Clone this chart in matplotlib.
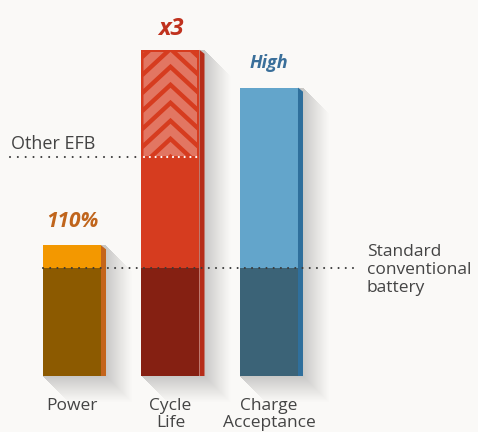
import numpy as np
import matplotlib
matplotlib.use('Agg')
import matplotlib.pyplot as plt
from matplotlib.patches import Rectangle, Polygon

# ---- data ----
categories = ['Power', 'Cycle\nLife', 'Charge\nAcceptance']
values = [121, 302, 267]          # standard conventional battery = 100
standard = 100
other_efb = 203
top_labels = ['110%', 'x3', 'High']

front_top = ['#f39800', '#d63c1f', '#63a5cb']
front_low = ['#8c5a00', '#852012', '#3b6377']
side_col = ['#c4651b', '#b62d19', '#2f6f9c']
label_col = ['#c0651c', '#c0321e', '#3a6f9a']
bg = '#faf9f7'
text_col = '#444444'

W, H = 478, 432
fig = plt.figure(figsize=(W / 100, H / 100), dpi=100)
fig.patch.set_facecolor(bg)
ax = fig.add_axes([0, 0, 1, 1])
ax.set_facecolor(bg)
XMIN, XMAX = -0.731, 4.122
YMIN, YMAX = -51.85, 348.15
ax.set_xlim(XMIN, XMAX)
ax.set_ylim(YMIN, YMAX)
ax.axis('off')

sx = W / (XMAX - XMIN)   # px per x unit
sy = H / (YMAX - YMIN)   # px per y unit

def px2x(p):
    return XMIN + p / sx

def px2y(p):
    return YMAX - p / sy

bw = 58 / sx      # front face width
sw = 5 / sx       # side face width
x = np.arange(len(categories))

font = ['Open Sans', 'DejaVu Sans']

# ---- shadows ----
gx, gy = np.meshgrid(np.arange(W) + 0.5, np.arange(H) + 0.5)
alpha = np.zeros((H, W))
L = 27.0
for i, v in enumerate(values):
    bx0 = (x[i] - bw / 2 - XMIN) * sx
    bx1 = (x[i] + bw / 2 + sw - XMIN) * sx
    btop = (YMAX - v) * sy
    bbot = (YMAX - 0) * sy
    s = np.maximum(0, np.maximum(gx - bx1, gy - bbot))
    ok = (s <= np.minimum(gx - bx0, gy - btop)) & (s <= L)
    a = np.where(ok, 0.2 * (1 - s / L) ** 1.1, 0)
    alpha = np.maximum(alpha, a)
img = np.zeros((H, W, 4))
img[..., 3] = alpha
ax.imshow(img, extent=(XMIN, XMAX, YMIN, YMAX), origin='upper', zorder=1,
          aspect='auto', interpolation='bilinear')

# ---- bars ----
for i, v in enumerate(values):
    x0 = x[i] - bw / 2
    ax.bar(x[i], v, width=bw, color=front_top[i], zorder=2, linewidth=0)
    ax.bar(x[i], standard, width=bw, color=front_low[i], zorder=3, linewidth=0)
    x1 = x0 + bw
    side = Polygon([(x1, v), (x1 + sw, v - 4 / sy), (x1 + sw, 0), (x1, 0)],
                   closed=True, facecolor=side_col[i], edgecolor='none', zorder=3)
    ax.add_patch(side)

# ---- chevrons on cycle life bar ----
ci = 1
cx0 = x[ci] - bw / 2 + 2 / sx
cx1 = x[ci] + bw / 2 - 2 / sx
ctop = values[ci] - 2 / sy
cbot = other_efb + 1 / sy
clip = Rectangle((cx0, cbot), cx1 - cx0, ctop - cbot, transform=ax.transData,
                 facecolor='none', edgecolor='none')
ax.add_patch(clip)
period = 18 / sy
thick = 12 / sy
drop = 25 / sy
cxm = x[ci]
for k in range(-2, 8):
    apex = ctop - k * period
    poly = Polygon([(cx0, apex - drop), (cxm, apex), (cx1, apex - drop),
                    (cx1, apex - drop - thick), (cxm, apex - thick),
                    (cx0, apex - drop - thick)],
                   closed=True, facecolor='white', alpha=0.3,
                   edgecolor='none', zorder=4)
    ax.add_patch(poly)
    poly.set_clip_path(clip)

# ---- reference lines ----
ax.plot([x[0] - bw / 2, px2x(355)], [standard, standard], color='#3a3a3a',
        lw=1.5, linestyle=(0, (0.01, 3.45)), dash_capstyle='round', zorder=5)
ax.plot([px2x(10), x[1] - bw / 2 - 4 / sx], [other_efb, other_efb], color='#3a3a3a',
        lw=1.5, linestyle=(0, (0.01, 3.75)), dash_capstyle='round', zorder=5)
ax.plot([x[1] - bw / 2 + 3 / sx, x[1] + bw / 2], [other_efb, other_efb], color='white',
        lw=1.6, linestyle=(0, (0.01, 2.6)), dash_capstyle='round', zorder=5)

# ---- texts ----
ax.text(px2x(11), other_efb + 4 / sy, 'Other EFB', ha='left', va='bottom',
        fontsize=13, color=text_col, family=font, zorder=6)
ax.text(px2x(367), px2y(270), 'Standard\nconventional\nbattery', ha='left',
        va='center', fontsize=12.5, color=text_col, family=font,
        linespacing=1.2, zorder=6)

label_sizes = [15, 17, 13]
label_off = [24, 21, 25]
for i, v in enumerate(values):
    ax.text(x[i], v + label_off[i] / sy, top_labels[i], ha='center', va='center',
            fontsize=label_sizes[i], color=label_col[i], fontweight='bold',
            fontstyle='italic', family=font, zorder=6)
    ax.text(x[i], px2y(398), categories[i], ha='center', va='top',
            fontsize=12.5, color=text_col, family=font, linespacing=1.1,
            zorder=6)

fig.savefig('out.png', dpi=100, facecolor=bg)
